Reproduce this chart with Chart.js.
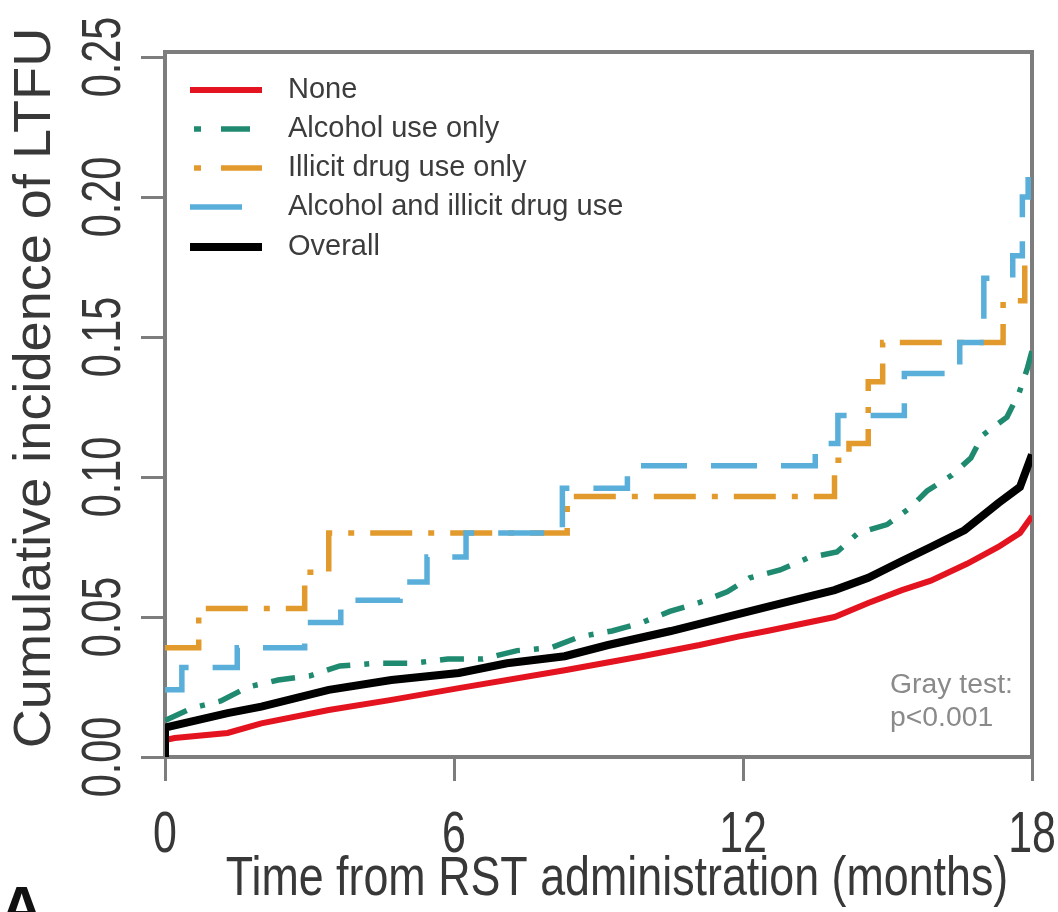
<!DOCTYPE html>
<html>
<head>
<meta charset="utf-8">
<title>Cumulative incidence of LTFU</title>
<script src="https://cdn.jsdelivr.net/npm/chart.js@4.4.0/dist/chart.umd.min.js"></script>
<style>
  html, body { margin: 0; padding: 0; background: #fff; }
  canvas { display: block; }
</style>
</head>
<body>
<canvas id="ltfu-chart" width="1058" height="912"></canvas>
<script>
/*
 * Values (months since RST, cumulative incidence)
 */
const groups = ['None', 'Alcohol use only', 'Illicit drug use only', 'Alcohol and illicit drug use', 'Overall']

const xTicks = [0, 6, 12, 18]
const xTickLabels = ['0', '6', '12', '18']
const yTicks = [0, 0.05, 0.10, 0.15, 0.20, 0.25]
const yTickLabels = ['0.00', '0.05', '0.10', '0.15', '0.20', '0.25']

const noneTime = [0, 0, 0.2, 1.3, 2.0, 3.4, 4.7, 6.1, 8.3, 9.9, 11.1, 11.9, 12.5, 13.9, 14.6, 15.3, 15.9, 16.65, 17.3, 17.75, 18]
const noneValue = [0, 0.006, 0.0068, 0.0086, 0.012, 0.0168, 0.0204, 0.0246, 0.031, 0.036, 0.040, 0.043, 0.045, 0.050, 0.055, 0.0596, 0.063, 0.069, 0.075, 0.080, 0.086]

const alcoholTime = [0, 0.56, 1.16, 1.72, 2.35, 3.01, 3.63, 4.40, 5.15, 5.87, 6.60, 7.31, 8.01, 8.62, 9.28, 9.90, 10.48, 11.07, 11.67, 12.14, 12.77, 13.35, 13.95, 14.39, 14.99, 15.47, 15.82, 16.34, 16.73, 16.98, 17.48, 17.73, 17.90, 18]
const alcoholValue = [0.013, 0.0175, 0.020, 0.025, 0.0275, 0.029, 0.0325, 0.0335, 0.0335, 0.035, 0.035, 0.038, 0.039, 0.043, 0.045, 0.048, 0.052, 0.055, 0.059, 0.064, 0.0668, 0.0711, 0.0732, 0.080, 0.0830, 0.089, 0.095, 0.1007, 0.1068, 0.115, 0.1214, 0.130, 0.1386, 0.145]

const illicitTime = [0, 0.7, 2.9, 3.4, 8.35, 13.9, 14.2, 14.6, 14.9, 17.4, 17.85, 18]
const illicitValue = [0.039, 0.053, 0.066, 0.080, 0.093, 0.106, 0.112, 0.134, 0.148, 0.163, 0.178, 0.178]

const bothTime = [0, 0.35, 1.5, 2.9, 3.65, 4.88, 5.44, 6.25, 8.25, 9.6, 13.5, 13.97, 15.35, 16.5, 17.0, 17.6, 17.8, 17.92, 18]
const bothValue = [0.024, 0.032, 0.039, 0.048, 0.056, 0.0625, 0.0714, 0.080, 0.096, 0.104, 0.112, 0.122, 0.137, 0.148, 0.171, 0.179, 0.200, 0.214, 0.214]

const overallTime = [0, 0, 1.3, 2.0, 3.4, 4.7, 6.1, 7.1, 8.3, 9.2, 10.5, 11.9, 12.5, 13.9, 14.6, 15.3, 15.9, 16.6, 17.3, 17.75, 18]
const overallValue = [0, 0.0105, 0.0157, 0.018, 0.024, 0.0275, 0.030, 0.0335, 0.036, 0.040, 0.045, 0.051, 0.0536, 0.0596, 0.064, 0.070, 0.075, 0.081, 0.0907, 0.0964, 0.108]

const toPoints = (times, values) => times.map((t, i) => ({ x: t, y: values[i] }))

const FONT = '"Liberation Sans", Arial, Helvetica, sans-serif'
const AXIS_GRAY = '#7d7d7d'

/*
 * Draw text squeezed horizontally (in its own frame), the figure uses a narrow face
 */
const squeezedText = (ctx, text, x, y, o) => {
	ctx.save()
	ctx.translate(x, y)
	if (o.rotate) ctx.rotate(o.rotate)
	ctx.scale(o.squeeze || 1, 1)
	ctx.font = o.font
	ctx.fillStyle = o.color || '#333'
	ctx.textAlign = o.align || 'center'
	ctx.textBaseline = o.baseline || 'middle'
	ctx.fillText(text, 0, 0)
	ctx.restore()
}

// legend sample pieces: [from, to] segments in px, per group
const legendPieces = [
	[[190, 262]],
	[[194, 201], [221, 250]],
	[[194, 201], [221, 262]],
	[[190, 242]],
	[[190, 262]]
]

const paperPlugin = {
	id: 'paperFrame',
	beforeDatasetsDraw(chart) {
		const { ctx, chartArea: a } = chart
		ctx.save()
		ctx.strokeStyle = AXIS_GRAY
		ctx.lineWidth = 4
		ctx.strokeRect(a.left, a.top, a.right - a.left, a.bottom - a.top)
		ctx.restore()
	},
	afterDraw(chart) {
		const { ctx, scales } = chart

		// y tick labels, rotated like base R
		yTicks.forEach((v, i) => {
			squeezedText(ctx, yTickLabels[i], 105, scales.y.getPixelForValue(v), {
				rotate: -Math.PI / 2, squeeze: 0.74, font: '56px ' + FONT, color: '#383838'
			})
		})
		// x tick labels
		xTicks.forEach((v, i) => {
			squeezedText(ctx, xTickLabels[i], scales.x.getPixelForValue(v), 836, {
				squeeze: 0.74, font: '58px ' + FONT, color: '#383838'
			})
		})
		// axis titles
		squeezedText(ctx, 'Time from RST administration (months)', 617, 880, {
			squeeze: 0.8, font: '56px ' + FONT, color: '#383838'
		})
		squeezedText(ctx, 'Cumulative incidence of LTFU', 36, 388, {
			rotate: -Math.PI / 2, squeeze: 1.04, font: '52px ' + FONT, color: '#383838'
		})

		// legend
		const rows = [90, 129, 168, 207, 247]
		chart.data.datasets.forEach((ds, i) => {
			ctx.save()
			ctx.strokeStyle = ds.borderColor
			ctx.lineWidth = ds.borderWidth
			ctx.lineCap = 'butt'
			legendPieces[i].forEach(([x1, x2]) => {
				ctx.beginPath()
				ctx.moveTo(x1, rows[i])
				ctx.lineTo(x2, rows[i])
				ctx.stroke()
			})
			ctx.restore()
			squeezedText(ctx, ds.label, 288, rows[i], {
				align: 'left', font: '29px ' + FONT, color: '#3c3c3c'
			})
		})

		// test annotation
		squeezedText(ctx, 'Gray test:', 890, 686, { align: 'left', font: '27px ' + FONT, color: '#8a8a8a', squeeze: 1.05 })
		squeezedText(ctx, 'p<0.001', 890, 719, { align: 'left', font: '27px ' + FONT, color: '#8a8a8a', squeeze: 1.05 })

		// panel letter, cut by the bottom edge
		squeezedText(ctx, 'A', 0, 928, { align: 'left', baseline: 'alphabetic', font: 'bold 60px ' + FONT, color: '#111' })
	}
}

const tickGrid = {
	drawOnChartArea: false,
	drawTicks: true,
	tickLength: 24,
	color: AXIS_GRAY,
	lineWidth: 3
}

const ltfuChart = new Chart(document.getElementById('ltfu-chart'), {
	type: 'line',
	data: {
		datasets: [
			{ label: groups[0], data: toPoints(noneTime, noneValue), borderColor: '#e3141f', borderWidth: 6, order: 4 },
			{ label: groups[1], data: toPoints(alcoholTime, alcoholValue), borderColor: '#1f8a6f', borderWidth: 5.5, borderDash: [24, 14, 5, 14], order: 1 },
			{ label: groups[2], data: toPoints(illicitTime, illicitValue), borderColor: '#e39a2d', borderWidth: 5.5, borderDash: [42, 16, 6, 16], stepped: true, order: 2 },
			{ label: groups[3], data: toPoints(bothTime, bothValue), borderColor: '#5aafda', borderWidth: 5.5, borderDash: [46, 24], stepped: true, order: 0 },
			{ label: groups[4], data: toPoints(overallTime, overallValue), borderColor: '#000000', borderWidth: 8, order: 3 }
		]
	},
	options: {
		responsive: false,
		animation: false,
		layout: { padding: { left: 135, right: 26, top: 52, bottom: 125 } },
		plugins: {
			legend: { display: false },
			tooltip: { enabled: false }
		},
		elements: {
			point: { radius: 0 },
			line: { tension: 0, borderCapStyle: 'butt', borderJoinStyle: 'miter', fill: false }
		},
		scales: {
			x: {
				type: 'linear',
				min: 0,
				max: 18,
				afterBuildTicks: scale => { scale.ticks = xTicks.map(v => ({ value: v })) },
				afterFit: scale => { scale.height = 30 },
				ticks: { display: false },
				grid: tickGrid,
				border: { display: false }
			},
			y: {
				type: 'linear',
				min: 0,
				max: 0.2518,
				afterBuildTicks: scale => { scale.ticks = yTicks.map(v => ({ value: v })) },
				afterFit: scale => { scale.width = 30 },
				ticks: { display: false },
				grid: tickGrid,
				border: { display: false }
			}
		}
	},
	plugins: [paperPlugin]
})
</script>
</body>
</html>
